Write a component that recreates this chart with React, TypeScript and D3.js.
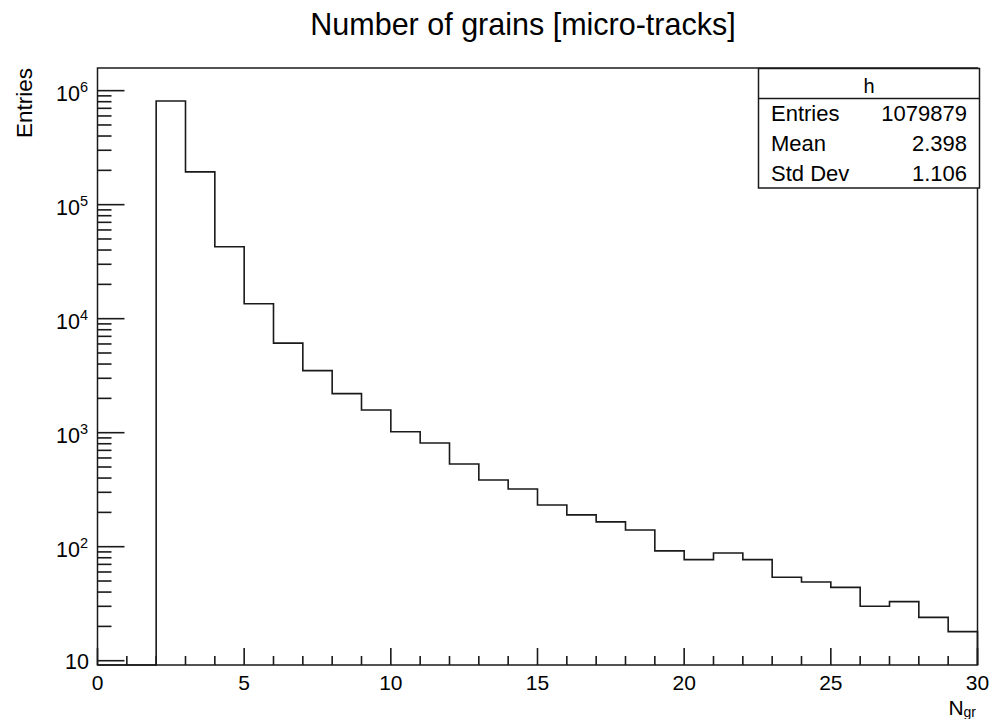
import React from "react";
import * as d3 from "d3";

// ---- data ----
const binLowEdges = [0, 1, 2, 3, 4, 5, 6, 7, 8, 9, 10, 11, 12, 13, 14, 15, 16, 17, 18, 19, 20, 21, 22, 23, 24, 25, 26, 27, 28, 29];
const binCounts = [0, 0, 812000, 194000, 42800, 13500, 6100, 3500, 2200, 1580, 1020, 813, 532, 385, 321, 232, 190, 165, 140, 92, 77, 88, 77, 54, 49, 44, 30, 33, 24, 18];
const binWidth = 1;
const xDomain = [0, 30];
const yDomain = [9.17, 1.58e6];
const xMajorTicks = [0, 5, 10, 15, 20, 25, 30];
const yDecades = [1, 2, 3, 4, 5, 6];
const statsLabels = ["Entries", "Mean", "Std Dev"];
const statsValues = ["1079879", "2.398", "1.106"];
const titleText = "Number of grains [micro-tracks]";
const histName = "h";

const W = 992;
const H = 719;
const FONT = "'Liberation Sans', Arial, Helvetica, sans-serif";
const INK = "#1a1a1a";

export default function App() {
  const left = 97.5, right = 977.5, top = 68, bottom = 665;
  const x = d3.scaleLinear().domain(xDomain).range([left, right]);
  const y = d3.scaleLog().domain(yDomain).range([bottom, top]);

  // histogram outline path
  const pts: [number, number][] = [[x(xDomain[0]), bottom]];
  const yOf = (v: number) => (v > 0 ? y(v) : bottom);
  binLowEdges.forEach((lo, i) => {
    const yy = yOf(binCounts[i]);
    pts.push([x(lo), yy]);
    pts.push([x(lo + binWidth), yy]);
  });
  pts.push([x(xDomain[1]), bottom]);
  const line = d3.line<[number, number]>().x((d) => d[0]).y((d) => d[1]);
  const pathD = line(pts) || "";

  // minor ticks
  const xMinor = d3.range(xDomain[0], xDomain[1] + 1, 1).filter((v) => v % 5 !== 0);
  const yMinor: number[] = [];
  for (let e = 0; e <= 6; e++) {
    for (let k = 2; k <= 9; k++) {
      const v = k * Math.pow(10, e);
      if (v >= yDomain[0] && v <= yDomain[1]) yMinor.push(v);
    }
  }

  const boxL = 758.5, boxR = 979.5, boxT = 68.5, boxDiv = 98.5, rowH = 30;
  const boxB = boxDiv + rowH * statsLabels.length - 0.5;

  return (
    <svg width={W} height={H} style={{ position: "absolute", left: 0, top: 0, background: "#fff" }} fontFamily={FONT}>
      <rect x={0} y={0} width={W} height={H} fill="#fff" />
      <text x={523} y={35} fontSize={30.5} textAnchor="middle" fill="#000">{titleText}</text>

      {/* histogram */}
      <path d={pathD} fill="none" stroke={INK} strokeWidth={1.6} />

      {/* frame */}
      <rect x={left} y={top} width={right - left} height={bottom - top} fill="none" stroke={INK} strokeWidth={1.5} />

      {/* x ticks */}
      {xMajorTicks.map((t) => (
        <g key={"xm" + t}>
          <line x1={x(t)} x2={x(t)} y1={bottom} y2={bottom - 17} stroke={INK} strokeWidth={1.6} />
          <text x={x(t)} y={690} fontSize={21} textAnchor="middle" fill="#000">{t}</text>
        </g>
      ))}
      {xMinor.map((t) => (
        <line key={"xn" + t} x1={x(t)} x2={x(t)} y1={bottom} y2={bottom - 9} stroke={INK} strokeWidth={1.6} />
      ))}

      {/* y ticks */}
      {yDecades.map((e) => {
        const v = Math.pow(10, e);
        const yy = y(v);
        return (
          <g key={"ym" + e}>
            <line x1={left} x2={left + 27} y1={yy} y2={yy} stroke={INK} strokeWidth={1.6} />
            {e === 1 ? (
              <text x={89} y={yy + 8} fontSize={21.5} textAnchor="end" fill="#000">10</text>
            ) : (
              <text x={88} y={yy + 10} fontSize={21.5} textAnchor="end" fill="#000">
                10<tspan fontSize={14.5} dy={-9}>{e}</tspan>
              </text>
            )}
          </g>
        );
      })}
      {yMinor.map((v) => (
        <line key={"yn" + v} x1={left} x2={left + 14} y1={y(v)} y2={y(v)} stroke={INK} strokeWidth={1.6} />
      ))}

      {/* axis titles */}
      <text transform="translate(32,68) rotate(-90)" fontSize={22.5} textAnchor="end" fill="#000">Entries</text>
      <text x={976} y={715} fontSize={21} textAnchor="end" fill="#000">
        N<tspan fontSize={14} dy={1.5}>gr</tspan>
      </text>

      {/* stats box */}
      <rect x={boxL} y={boxT} width={boxR - boxL} height={boxB - boxT} fill="#fff" stroke={INK} strokeWidth={1.5} />
      <line x1={boxL} x2={boxR} y1={boxDiv} y2={boxDiv} stroke={INK} strokeWidth={1.5} />
      <text x={(boxL + boxR) / 2} y={93} fontSize={20} textAnchor="middle" fill="#000">{histName}</text>
      {statsLabels.map((lab, i) => (
        <g key={lab}>
          <text x={771} y={boxDiv + rowH * i + 22} fontSize={22} fill="#000">{lab}</text>
          <text x={967} y={boxDiv + rowH * i + 22} fontSize={22} textAnchor="end" fill="#000">{statsValues[i]}</text>
        </g>
      ))}
    </svg>
  );
}
